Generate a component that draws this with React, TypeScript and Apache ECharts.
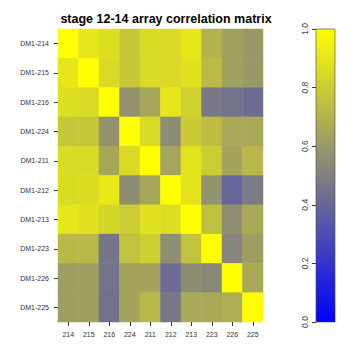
import React, { useEffect, useRef } from "react";
import * as echarts from "echarts";

const colLabels = ["214", "215", "216", "224", "211", "212", "213", "223", "226", "225"];
const rowLabels = ["DM1-214", "DM1-215", "DM1-216", "DM1-224", "DM1-211", "DM1-212", "DM1-213", "DM1-223", "DM1-226", "DM1-225"];

const rowDM1_214 = [1.0, 0.9, 0.87, 0.78, 0.86, 0.85, 0.9, 0.7, 0.63, 0.6];
const rowDM1_215 = [0.9, 1.0, 0.85, 0.78, 0.85, 0.85, 0.88, 0.73, 0.63, 0.6];
const rowDM1_216 = [0.87, 0.85, 1.0, 0.57, 0.65, 0.9, 0.82, 0.47, 0.45, 0.42];
const rowDM1_224 = [0.78, 0.78, 0.57, 1.0, 0.85, 0.55, 0.79, 0.74, 0.66, 0.66];
const rowDM1_211 = [0.86, 0.85, 0.65, 0.85, 1.0, 0.65, 0.89, 0.8, 0.64, 0.72];
const rowDM1_212 = [0.86, 0.86, 0.91, 0.55, 0.65, 1.0, 0.89, 0.57, 0.4, 0.48];
const rowDM1_213 = [0.9, 0.88, 0.84, 0.8, 0.88, 0.87, 1.0, 0.75, 0.56, 0.66];
const rowDM1_223 = [0.72, 0.72, 0.46, 0.76, 0.81, 0.56, 0.76, 1.0, 0.52, 0.62];
const rowDM1_226 = [0.62, 0.62, 0.45, 0.64, 0.64, 0.42, 0.55, 0.53, 1.0, 0.66];
const rowDM1_225 = [0.62, 0.62, 0.44, 0.64, 0.72, 0.47, 0.66, 0.66, 0.68, 1.0];

const matrix = [rowDM1_214, rowDM1_215, rowDM1_216, rowDM1_224, rowDM1_211, rowDM1_212, rowDM1_213, rowDM1_223, rowDM1_226, rowDM1_225];

const titleText = "stage 12-14 array correlation matrix";

export default function App() {
  const ref = useRef<HTMLDivElement>(null);
  useEffect(() => {
    document.body.style.margin = "0";
    const chart = echarts.init(ref.current!, null, { renderer: "svg" });
    const data: number[][] = [];
    matrix.forEach((row, r) => row.forEach((v, c) => data.push([c, r, v])));
    const font = "Liberation Sans, Arial, sans-serif";
    chart.setOption({
      animation: false,
      backgroundColor: "#ffffff",
      title: {
        text: titleText,
        left: 161,
        textAlign: "center",
        top: 7,
        textStyle: { fontFamily: font, fontSize: 12.5, fontWeight: "bold", color: "#000" },
      },
      visualMap: {
        show: false,
        type: "continuous",
        min: 0,
        max: 1,
        seriesIndex: 0,
        inRange: { color: ["#0000ff", "#808080", "#ffff00"] },
      },
      grid: [
        { left: 58, top: 29, width: 205, height: 293 },
        { left: 316, top: 29, width: 19, height: 293 },
      ],
      xAxis: [
        {
          type: "category",
          gridIndex: 0,
          data: colLabels,
          position: "bottom",
          axisLine: { show: false },
          axisTick: { show: true, alignWithLabel: true, length: 4, lineStyle: { color: "#333" } },
          axisLabel: { fontFamily: font, fontSize: 7, color: "#333", margin: 9 },
          splitLine: { show: false },
        },
        { type: "value", gridIndex: 1, show: false, min: 0, max: 1 },
      ],
      yAxis: [
        {
          type: "category",
          gridIndex: 0,
          data: rowLabels,
          inverse: true,
          axisLine: { show: true, lineStyle: { color: "#333", width: 1 } },
          axisTick: { show: true, alignWithLabel: true, length: 4, lineStyle: { color: "#333" } },
          axisLabel: { fontFamily: font, fontSize: 7, color: "#333", margin: 9 },
          splitLine: { show: false },
        },
        {
          type: "value",
          gridIndex: 1,
          min: 0,
          max: 1,
          interval: 0.2,
          position: "left",
          axisLine: { show: false },
          axisTick: { show: true, length: 4, lineStyle: { color: "#333" } },
          axisLabel: {
            fontFamily: font,
            fontSize: 8.5,
            color: "#444",
            rotate: 90,
            margin: 7,
            formatter: (v: number) => v.toFixed(1),
          },
          splitLine: { show: false },
        },
      ],
      graphic: [
        {
          type: "rect",
          shape: { x: 316, y: 29, width: 19, height: 293 },
          style: {
            fill: new echarts.graphic.LinearGradient(0, 0, 0, 1, [
              { offset: 0, color: "#ffff00" },
              { offset: 0.5, color: "#808080" },
              { offset: 1, color: "#0000ff" },
            ]),
            stroke: "#444",
            lineWidth: 0.6,
          },
          z: 10,
        },
      ],
      series: [
        {
          type: "heatmap",
          xAxisIndex: 0,
          yAxisIndex: 0,
          data,
          itemStyle: { borderWidth: 0 },
          emphasis: { disabled: true },
        },
        { type: "scatter", xAxisIndex: 1, yAxisIndex: 1, data: [] },
      ],
    });
    return () => chart.dispose();
  }, []);
  return <div ref={ref} style={{ width: 360, height: 359 }} />;
}
